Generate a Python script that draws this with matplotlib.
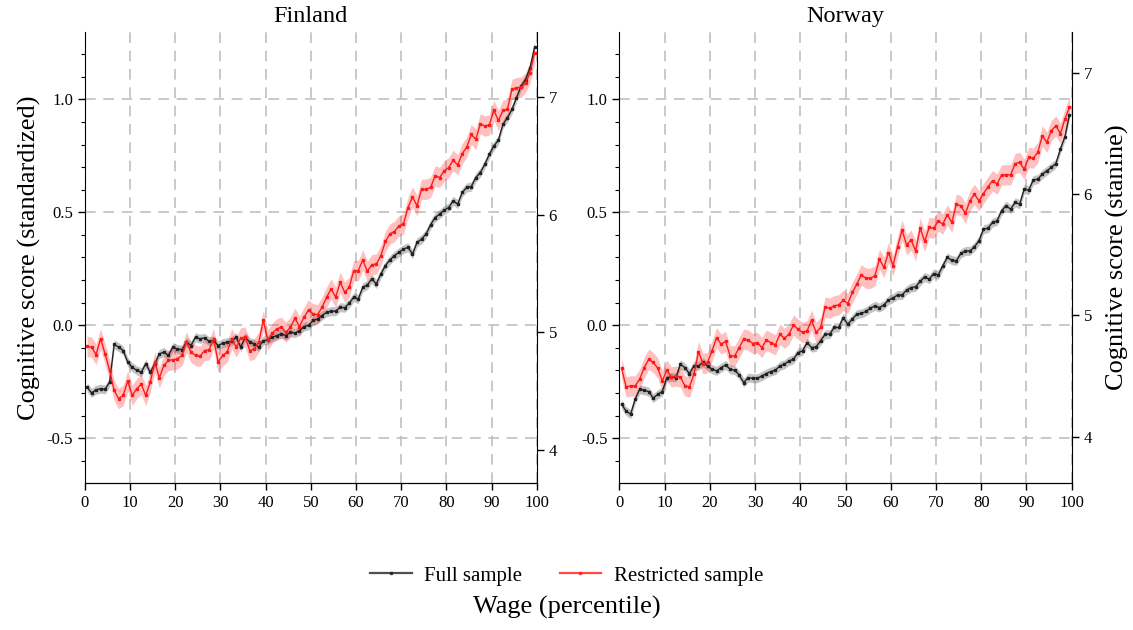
import matplotlib.pyplot as plt
import numpy as np

plt.rcParams['font.family'] = ['Liberation Serif', 'DejaVu Serif']

# wage percentile (bin midpoints)
pct = np.arange(100) + 0.5

# Finland, standardized cognitive score
fin_full = [
    -0.274, -0.300, -0.286, -0.281, -0.284, -0.252, -0.085, -0.097, -0.112, -0.163,
    -0.186, -0.200, -0.208, -0.171, -0.208, -0.171, -0.127, -0.119, -0.134, -0.097,
    -0.105, -0.109, -0.075, -0.090, -0.053, -0.060, -0.056, -0.071, -0.068, -0.090,
    -0.080, -0.075, -0.071, -0.053, -0.097, -0.053, -0.075, -0.082, -0.097, -0.068,
    -0.065, -0.053, -0.046, -0.038, -0.046, -0.031, -0.035, -0.024, -0.006, -0.001,
    0.021, 0.028, 0.043, 0.057, 0.062, 0.062, 0.080, 0.077, 0.097, 0.124,
    0.116, 0.168, 0.178, 0.205, 0.183, 0.227, 0.264, 0.289, 0.308, 0.323,
    0.337, 0.345, 0.315, 0.367, 0.381, 0.404, 0.445, 0.477, 0.492, 0.510,
    0.521, 0.551, 0.536, 0.588, 0.610, 0.614, 0.654, 0.676, 0.713, 0.757,
    0.794, 0.819, 0.890, 0.919, 0.956, 1.007, 1.059, 1.088, 1.140, 1.231,
]
fin_restr = [
    -0.094, -0.097, -0.130, -0.060, -0.127, -0.200, -0.289, -0.325, -0.311, -0.247,
    -0.311, -0.281, -0.262, -0.311, -0.252, -0.163, -0.233, -0.178, -0.156, -0.153,
    -0.149, -0.134, -0.075, -0.119, -0.134, -0.138, -0.112, -0.109, -0.060, -0.163,
    -0.134, -0.119, -0.060, -0.097, -0.056, -0.053, -0.112, -0.105, -0.075, 0.021,
    -0.065, -0.035, -0.016, -0.009, -0.031, -0.009, 0.031, -0.006, 0.035, 0.068,
    0.050, 0.047, 0.080, 0.124, 0.161, 0.124, 0.190, 0.146, 0.168, 0.242,
    0.242, 0.289, 0.239, 0.268, 0.271, 0.308, 0.371, 0.404, 0.415, 0.440,
    0.448, 0.521, 0.568, 0.529, 0.602, 0.602, 0.610, 0.661, 0.654, 0.683,
    0.698, 0.730, 0.710, 0.760, 0.789, 0.845, 0.823, 0.892, 0.882, 0.887,
    0.951, 0.907, 0.951, 0.956, 1.044, 1.052, 1.054, 1.074, 1.118, 1.206,
]

# Norway, standardized cognitive score
nor_full = [
    -0.350, -0.380, -0.394, -0.328, -0.284, -0.288, -0.294, -0.323, -0.306, -0.294,
    -0.232, -0.229, -0.232, -0.173, -0.188, -0.214, -0.180, -0.180, -0.165, -0.180,
    -0.195, -0.202, -0.188, -0.176, -0.195, -0.199, -0.220, -0.254, -0.232, -0.235,
    -0.235, -0.225, -0.214, -0.205, -0.199, -0.180, -0.173, -0.158, -0.151, -0.121,
    -0.114, -0.077, -0.099, -0.096, -0.069, -0.040, -0.040, -0.010, -0.010, 0.034,
    0.004, 0.027, 0.049, 0.052, 0.061, 0.075, 0.086, 0.078, 0.090, 0.111,
    0.120, 0.134, 0.134, 0.155, 0.167, 0.170, 0.194, 0.214, 0.204, 0.229,
    0.223, 0.263, 0.300, 0.288, 0.285, 0.318, 0.329, 0.329, 0.347, 0.374,
    0.425, 0.430, 0.455, 0.462, 0.507, 0.529, 0.514, 0.544, 0.536, 0.603,
    0.598, 0.643, 0.647, 0.669, 0.684, 0.699, 0.716, 0.780, 0.835, 0.932,
]
nor_restr = [
    -0.190, -0.273, -0.269, -0.269, -0.239, -0.188, -0.151, -0.165, -0.190, -0.247,
    -0.199, -0.229, -0.225, -0.229, -0.269, -0.273, -0.217, -0.117, -0.170, -0.165,
    -0.114, -0.055, -0.084, -0.072, -0.136, -0.136, -0.099, -0.062, -0.066, -0.081,
    -0.077, -0.099, -0.066, -0.077, -0.087, -0.040, -0.058, -0.040, 0.001, -0.018,
    -0.032, -0.025, 0.022, -0.032, -0.010, 0.081, 0.075, 0.086, 0.090, 0.111,
    0.096, 0.145, 0.182, 0.223, 0.208, 0.208, 0.219, 0.292, 0.256, 0.322,
    0.263, 0.347, 0.421, 0.356, 0.377, 0.329, 0.430, 0.371, 0.433, 0.430,
    0.462, 0.448, 0.489, 0.455, 0.536, 0.529, 0.495, 0.551, 0.580, 0.551,
    0.583, 0.613, 0.640, 0.625, 0.666, 0.666, 0.666, 0.716, 0.721, 0.691,
    0.743, 0.740, 0.765, 0.839, 0.810, 0.862, 0.883, 0.849, 0.913, 0.965,
]

# half width of the confidence bands
ci_full = 0.02
ci_restr = 0.045

# stanine axis limits (right axis) per country
stanine_lim = {'Finland': (3.717, 7.558), 'Norway': (3.616, 7.338)}

panels = [
    ('Finland', fin_full, fin_restr),
    ('Norway', nor_full, nor_restr),
]

fig = plt.figure(figsize=(11.33, 6.3), dpi=100)
positions = [[0.0748, 0.2329, 0.399, 0.7168], [0.5466, 0.2329, 0.3993, 0.7168]]

for i, (name, full, restr) in enumerate(panels):
    ax = fig.add_axes(positions[i])
    full = np.array(full)
    restr = np.array(restr)

    ax.fill_between(pct, full - ci_full, full + ci_full, color='#555555', alpha=0.35, lw=0, zorder=2)
    l1, = ax.plot(pct, full, color='#222222', lw=1.0, marker='s', ms=1.8, zorder=3,
                  label='Full sample')
    ax.fill_between(pct, restr - ci_restr, restr + ci_restr, color='#ff3030', alpha=0.3, lw=0, zorder=2)
    l2, = ax.plot(pct, restr, color='#ff1a1a', lw=1.0, marker='s', ms=1.8, zorder=4,
                  label='Restricted sample')

    ax.set_xlim(0, 100)
    ax.set_ylim(-0.7, 1.3)
    ax.set_xticks(np.arange(0, 101, 10))
    ax.set_yticks([-0.5, 0.0, 0.5, 1.0])
    ax.set_yticks(np.arange(-0.6, 1.25, 0.1), minor=True)
    ax.set_yticklabels(['-0.5', '0.0', '0.5', '1.0'])
    ax.grid(True, which='major', color='#bbbbbb', linestyle=(0, (7, 5)), linewidth=1.1, zorder=0)
    ax.set_axisbelow(True)
    ax.spines['top'].set_visible(False)
    ax.spines['right'].set_visible(False)
    ax.tick_params(labelsize=12, direction='out', length=5, width=1)
    ax.tick_params(which='minor', length=3, width=0.8)
    ax.set_title(name, fontsize=17.5, pad=7)

    ax2 = ax.twinx()
    ax2.set_ylim(*stanine_lim[name])
    ax2.set_yticks([4, 5, 6, 7])
    ax2.spines['top'].set_visible(False)
    ax2.spines['left'].set_visible(False)
    ax2.tick_params(labelsize=12, direction='out', length=5, width=1)

    if i == 0:
        ax.set_ylabel('Cognitive score (standardized)', fontsize=19, labelpad=4)
    else:
        ax2.set_ylabel('Cognitive score (stanine)', fontsize=19, labelpad=10)

leg = fig.legend([l1, l2], ['Full sample', 'Restricted sample'], loc='center',
                 bbox_to_anchor=(0.5, 0.086), ncol=2, frameon=False, fontsize=15,
                 handlelength=2.0, handletextpad=0.6, columnspacing=1.8)
for h in leg.legend_handles:
    h.set_linewidth(1.6)
    h.set_alpha(0.8)
fig.text(0.5, 0.035, 'Wage (percentile)', ha='center', va='center', fontsize=19)

fig.savefig('out.png', dpi=100)
